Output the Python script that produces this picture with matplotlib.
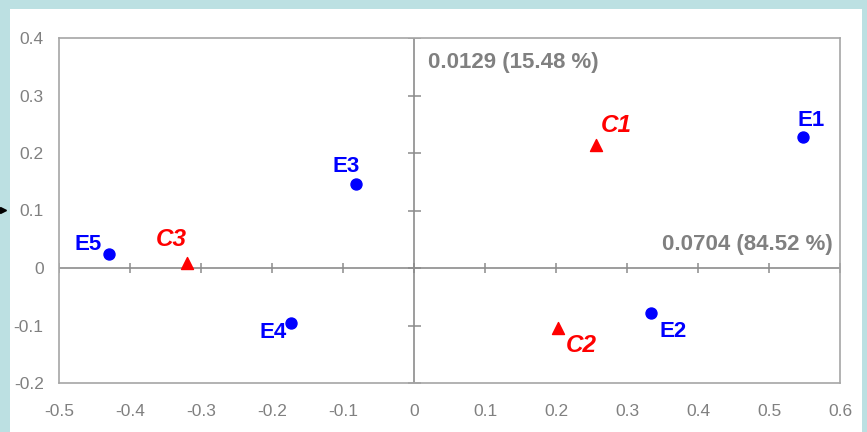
import matplotlib.pyplot as plt
from matplotlib.lines import Line2D
from matplotlib.patches import Rectangle

# Row points (E) and column points (C) on the first two axes
row_labels = ["E1", "E2", "E3", "E4", "E5"]
row_x = [0.548, 0.334, -0.082, -0.173, -0.430]
row_y = [0.228, -0.078, 0.146, -0.096, 0.024]

col_labels = ["C1", "C2", "C3"]
col_x = [0.256, 0.203, -0.320]
col_y = [0.214, -0.104, 0.009]

x_ticks = [-0.5, -0.4, -0.3, -0.2, -0.1, 0, 0.1, 0.2, 0.3, 0.4, 0.5, 0.6]
y_ticks = [-0.2, -0.1, 0, 0.1, 0.2, 0.3, 0.4]

axis1_text = "0.0704 (84.52 %)"
axis2_text = "0.0129 (15.48 %)"

PX = 0.72  # points per pixel at dpi=100

fig = plt.figure(figsize=(8.67, 4.32), dpi=100)
fig.patch.set_facecolor("#bce0e2")
fig.add_artist(Rectangle((10 / 867, 0), 852 / 867, 423 / 432,
                         transform=fig.transFigure, facecolor="white",
                         edgecolor="none", zorder=0))
fig.add_artist(Line2D([3 / 867], [1 - 210 / 432], transform=fig.transFigure,
                      marker=">", markersize=4, color="black", linestyle="none"))

ax = fig.add_axes([59 / 867, 49 / 432, 781 / 867, 345 / 432])
ax.set_zorder(1)
ax.set_xlim(-0.5, 0.6)
ax.set_ylim(-0.2, 0.4)
for sp in ax.spines.values():
    sp.set_color("#a6a6a6")
    sp.set_linewidth(1.2)

tick_font = dict(family=["Liberation Sans Narrow", "Liberation Sans", "DejaVu Sans"],
                 size=12.5, color="#808080")
ax.set_xticks(x_ticks)
ax.set_yticks(y_ticks)
ax.set_xticklabels([f"{v:g}" for v in x_ticks], **tick_font)
ax.set_yticklabels([f"{v:g}" for v in y_ticks], **tick_font)
ax.tick_params(axis="x", length=0, pad=15)
ax.tick_params(axis="y", length=0, pad=11)

# Axes through the origin with crossing tick marks
ax.axhline(0, color="#8c8c8c", lw=1.2, zorder=1)
ax.axvline(0, color="#8c8c8c", lw=1.2, zorder=1)
ax.plot(x_ticks, [0] * len(x_ticks), linestyle="none", marker="|",
        markersize=10 * PX, markeredgewidth=1.1, color="#8c8c8c", zorder=1)
ax.plot([0] * len(y_ticks), y_ticks, linestyle="none", marker="_",
        markersize=13 * PX, markeredgewidth=1.1, color="#8c8c8c", zorder=1)

ax.scatter(row_x, row_y, s=(11 * PX) ** 2, color="#0000ff", zorder=3)
ax.scatter(col_x, col_y, s=(12 * PX) ** 2, color="#ff0000", marker="^", zorder=3)

lab_font = dict(family=["Liberation Sans", "DejaVu Sans"], fontweight="bold")
# label offsets in pixels: (dx, dy, ha, va)
row_pos = {
    "E1": (8, 11, "center", "baseline"),
    "E2": (8, -8, "left", "top"),
    "E3": (-10, 12, "center", "baseline"),
    "E4": (-4, 1, "right", "top"),
    "E5": (-7, 4, "right", "baseline"),
}
col_pos = {
    "C1": (5, 13, "left", "baseline"),
    "C2": (8, -6, "left", "top"),
    "C3": (0, 17, "right", "baseline"),
}
for lab, x, y in zip(row_labels, row_x, row_y):
    dx, dy, ha, va = row_pos[lab]
    ax.annotate(lab, (x, y), xytext=(dx * PX, dy * PX), textcoords="offset points",
                ha=ha, va=va, color="#0000ff", fontsize=16, **lab_font)
for lab, x, y in zip(col_labels, col_x, col_y):
    dx, dy, ha, va = col_pos[lab]
    ax.annotate(lab, (x, y), xytext=(dx * PX, dy * PX), textcoords="offset points",
                ha=ha, va=va, color="#ff0000", style="italic", fontsize=17.5,
                **lab_font)

inertia_font = dict(family=["Liberation Sans", "DejaVu Sans"], fontsize=16,
                    fontweight="bold", color="#808080")
ax.text(0.4725, 0.913, axis2_text, transform=ax.transAxes, ha="left",
        va="baseline", **inertia_font)
ax.text(0.991, 0.3855, axis1_text, transform=ax.transAxes, ha="right",
        va="baseline", **inertia_font)

fig.savefig("out.png", dpi=100, facecolor=fig.get_facecolor())
